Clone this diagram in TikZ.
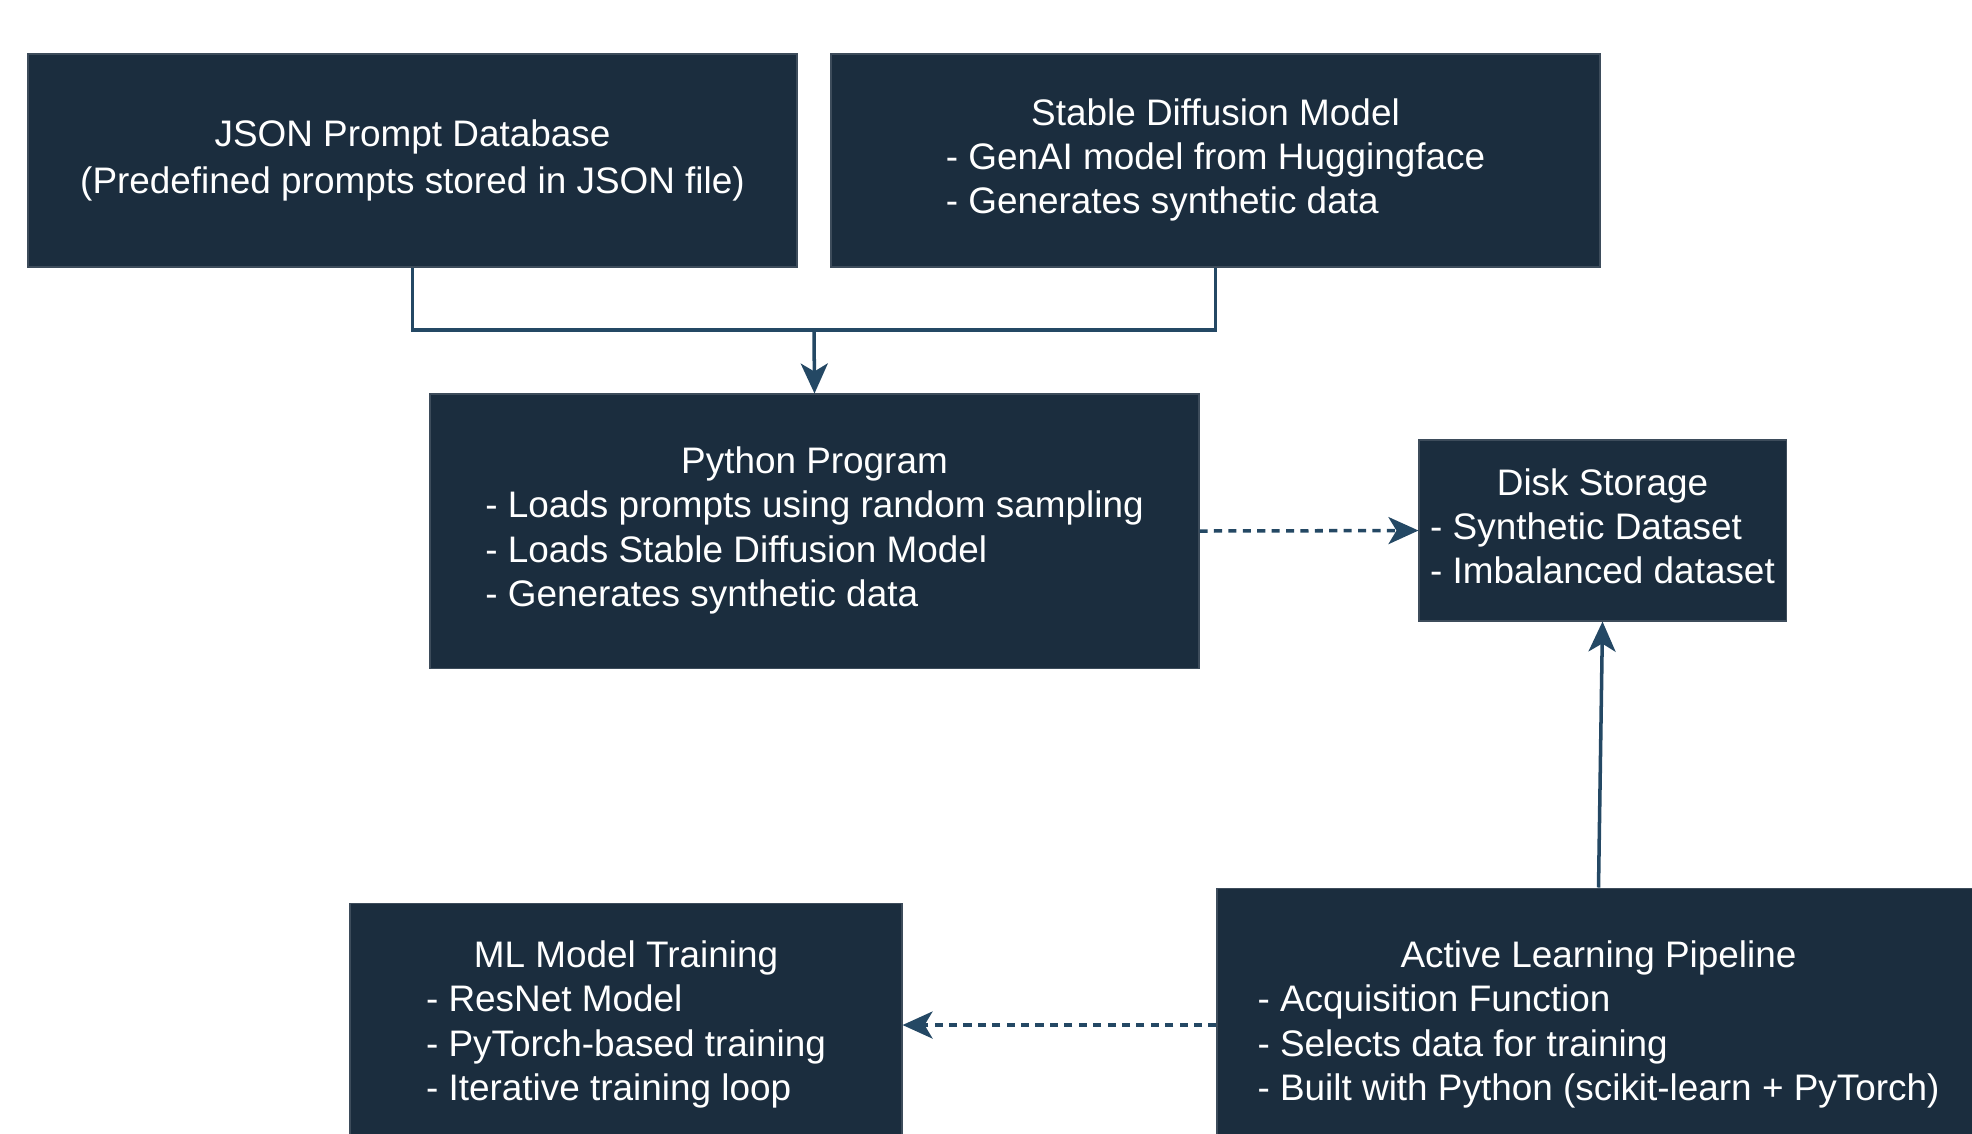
\documentclass[tikz,border=0pt]{standalone}
\usepackage{fontspec}
\setmainfont{Liberation Sans}
\usetikzlibrary{arrows.meta}
\definecolor{boxfill}{RGB}{27,45,62}
\definecolor{linecol}{RGB}{36,72,100}
\newcommand{\boxtext}[2]{\begin{tabular}{@{}l@{}}\multicolumn{1}{@{}c@{}}{#1}\\#2\end{tabular}}

\begin{document}
\begin{tikzpicture}[
box/.style={fill=boxfill,draw=boxfill!85!white,line width=0.3pt,text=white,inner sep=0pt,font=\fontsize{10.5}{12.6}\selectfont},
conn/.style={linecol,line width=1pt},
tip/.style={-{Stealth[length=3mm,width=2.7mm,inset=0.8mm]}},
dsh/.style={dash pattern=on 2.3pt off 1.8pt}]
\useasboundingbox(0,0)rectangle(19.72,-11.33);
\node[box,minimum width=7.69cm,minimum height=2.13cm,align=center](json)at(4.125,-1.605)
{JSON Prompt Database\\[1pt](Predefined prompts stored in JSON file)};
\node[box,minimum width=7.69cm,minimum height=2.13cm](sd)at(12.155,-1.605)
{\raisebox{-1mm}{\boxtext{Stable Diffusion Model}{- GenAI model from Huggingface\\- Generates synthetic data}}};
\node[box,minimum width=7.69cm,minimum height=2.74cm](py)at(8.145,-5.31)
{\boxtext{Python Program}{- Loads prompts using random sampling\\- Loads Stable Diffusion Model\\- Generates synthetic data}};
\node[box,minimum width=3.67cm,minimum height=1.81cm](disk)at(16.025,-5.305)
{\boxtext{Disk Storage}{- Synthetic Dataset\\- Imbalanced dataset}};
\node[box,minimum width=5.52cm,minimum height=2.44cm](ml)at(6.26,-10.25)
{\boxtext{ML Model Training}{- ResNet Model\\- PyTorch-based training\\- Iterative training loop}};
\node[box,minimum width=7.63cm,minimum height=2.74cm](al)at(15.985,-10.25)
{\boxtext{Active Learning Pipeline}{- Acquisition Function\\- Selects data for training\\- Built with Python (scikit-learn + PyTorch)}};
\coordinate(merge)at(8.14,-3.30);
\draw[conn](json.south)|-(merge)-|(sd.south);
\draw[conn,tip](merge)--(py.north);
\draw[conn,tip,dsh](py.east)--(disk.west);
\draw[conn,tip](al.north)--(disk.south);
\draw[conn,tip,dsh](al.west)--(ml.east);
\end{tikzpicture}
\end{document}
